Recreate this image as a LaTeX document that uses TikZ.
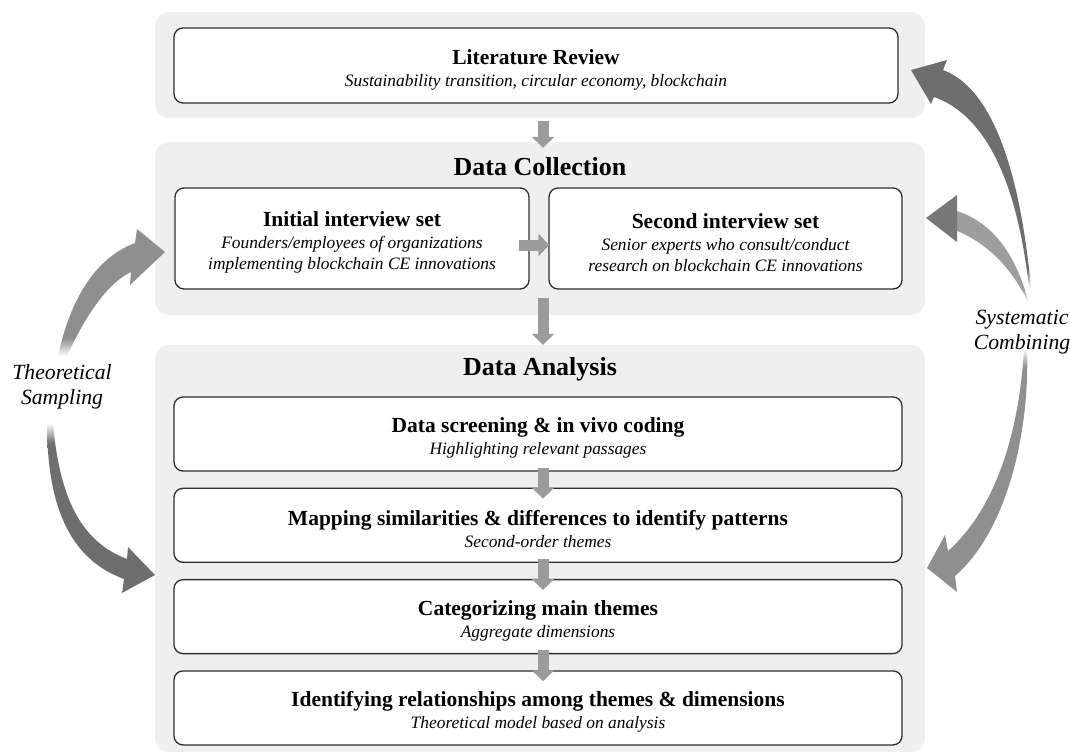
\documentclass[tikz,border=0pt]{standalone}
\usepackage{fontspec}
\setmainfont{Liberation Serif}
\usetikzlibrary{arrows.meta,positioning}

\definecolor{panelgray}{HTML}{EFEFEF}
\definecolor{flowgray}{HTML}{9B9B9B}
\definecolor{boxline}{HTML}{2E2E2E}
\definecolor{darkarrow}{HTML}{6E6E6E}
\definecolor{midarrow}{HTML}{8F8F8F}
\definecolor{lightarrow}{HTML}{9E9E9E}
\definecolor{headarrow}{HTML}{777777}

% fading tails of the curved side arrows
\pgfdeclareverticalshading{tailbelowmid}{100bp}{color(0bp)=(white); color(25bp)=(white); color(32bp)=(midarrow); color(100bp)=(midarrow)}
\pgfdeclareverticalshading{tailbelowdark}{100bp}{color(0bp)=(white); color(25bp)=(white); color(29bp)=(darkarrow); color(100bp)=(darkarrow)}
\pgfdeclareverticalshading{tailbelowlight}{100bp}{color(0bp)=(white); color(25bp)=(white); color(33bp)=(lightarrow); color(100bp)=(lightarrow)}
\pgfdeclareverticalshading{tailabovedark}{100bp}{color(0bp)=(darkarrow); color(69bp)=(darkarrow); color(75bp)=(white); color(100bp)=(white)}
\pgfdeclareverticalshading{tailabovemid}{100bp}{color(0bp)=(midarrow); color(71bp)=(midarrow); color(75bp)=(white); color(100bp)=(white)}

\newcommand{\secfont}{\fontsize{26}{30}\selectfont\upshape\bfseries}
\newcommand{\ttlfont}{\fontsize{21.5}{25}\selectfont\upshape\bfseries}
\newcommand{\subfont}{\fontsize{17.4}{21}\selectfont\itshape}
\newcommand{\sidefont}{\fontsize{21.7}{25}\selectfont\itshape}
\newcommand{\steptitle}[1]{{\ttlfont\rule{0pt}{23pt}#1}}

\tikzset{
  panel/.style={fill=panelgray, rounded corners=14pt, inner sep=0pt, minimum width=770pt},
  stepbox/.style={draw=boxline, line width=1.3pt, fill=white, rounded corners=9pt,
    align=center, font=\subfont, inner sep=0pt},
  sectitle/.style={font=\secfont, inner sep=0pt},
  sidelabel/.style={font=\sidefont, align=center, inner sep=0pt},
  flowarrow/.style={draw=flowgray, line width=11pt, -{Triangle[length=11pt,width=22pt]}}
}

\begin{document}
\begin{tikzpicture}[x=1pt, y=-1pt]
  \useasboundingbox (0,0) rectangle (1070,755);
  \coordinate (flowaxis) at (543,0);

  % grey panels
  \node[panel, minimum height=106pt] (lrpanel) at (540,65) {};
  \node[panel, minimum height=173pt] (dcpanel) at (540,228.5) {};
  \node[panel, minimum height=407pt] (dapanel) at (540,548.5) {};

  % literature review
  \node[stepbox, minimum width=724pt, minimum height=75pt] (litbox) at (536,65.5)
    {\steptitle{Literature Review}\\[1pt]Sustainability transition, circular economy, blockchain};

  % data collection
  \node[sectitle] (dctitle) at (540,167) {Data Collection};
  \node[stepbox, minimum width=354pt, minimum height=101pt] (initbox) at (352,238.5)
    {\steptitle{Initial interview set}\\[1pt]Founders/employees of organizations\\implementing blockchain CE innovations};
  \node[stepbox, minimum width=353pt, minimum height=101pt] (secbox) at (725.5,238.5)
    {\steptitle{Second interview set}\\[1pt]Senior experts who consult/conduct\\research on blockchain CE innovations};

  % data analysis
  \node[sectitle] (datitle) at (540,369) {Data Analysis};
  \node[stepbox, minimum width=728pt, minimum height=74pt] (screening) at (538,434)
    {\steptitle{Data screening \& in vivo coding}\\[1pt]Highlighting relevant passages};
  \node[stepbox, minimum width=728pt, minimum height=74pt, below=16pt of screening] (mapping)
    {\steptitle{Mapping similarities \& differences to identify patterns}\\[1pt]Second-order themes};
  \node[stepbox, minimum width=728pt, minimum height=74pt, below=16pt of mapping] (themes)
    {\steptitle{Categorizing main themes}\\[1pt]Aggregate dimensions};
  \node[stepbox, minimum width=728pt, minimum height=74pt, below=16pt of themes] (relations)
    {\steptitle{Identifying relationships among themes \& dimensions}\\[1pt]Theoretical model based on analysis};

  % straight flow arrows
  \draw[flowarrow, shorten <=3pt, shorten >=-6pt] (lrpanel.south -| flowaxis) -- (dcpanel.north -| flowaxis);
  \draw[flowarrow, shorten <=-11pt, shorten >=-1pt] ([yshift=-6.5pt]initbox.east) -- ([yshift=-6.5pt]secbox.west);
  \draw[flowarrow, shorten <=-17pt] (dcpanel.south -| flowaxis) -- (dapanel.north -| flowaxis);
  \foreach \a/\b in {screening/mapping, mapping/themes, themes/relations}
    \draw[flowarrow, shorten <=-4pt, shorten >=-11pt] (\a.south -| flowaxis) -- (\b.north -| flowaxis);

  % side labels
  \node[sidelabel] (sampling) at (62,387) {Theoretical\\Sampling};
  \node[sidelabel] (combining) at (1022,332) {Systematic\\Combining};

  % theoretical sampling arrows
  \shade[shading=tailbelowmid] (58,356) .. controls (70,300) and (95,258) .. (135,243)
    -- (137,229) -- (165,252) -- (130,285) -- (131,272)
    .. controls (110,282) and (88,310) .. (67,356) -- cycle;
  \shade[shading=tailabovedark] (47,423) .. controls (47,510) and (72,560) .. (124,579)
    -- (122,593) -- (155,575) -- (128,547) -- (127,559)
    .. controls (85,543) and (60,505) .. (53,423) -- cycle;

  % systematic combining arrows
  \shade[shading=tailbelowdark] (1029,288) .. controls (1017,180) and (985,115) .. (934,97)
    -- (931,104) -- (911,70) -- (947,60) -- (943,70)
    .. controls (992,88) and (1020,170) .. (1031,288) -- cycle;
  \shade[shading=tailbelowlight] (957,211) .. controls (990,222) and (1015,250) .. (1029,304)
    .. controls (1012,268) and (987,243) .. (957,231) -- cycle;
  \fill[headarrow] (926,218) -- (957,195) -- (957,242) -- cycle;
  \shade[shading=tailabovemid] (1027,348) .. controls (1030,430) and (1008,530) .. (955,576)
    -- (957,592) -- (927,568) -- (945,535) -- (948,551)
    .. controls (992,512) and (1019,440) .. (1024,348) -- cycle;
\end{tikzpicture}
\end{document}
